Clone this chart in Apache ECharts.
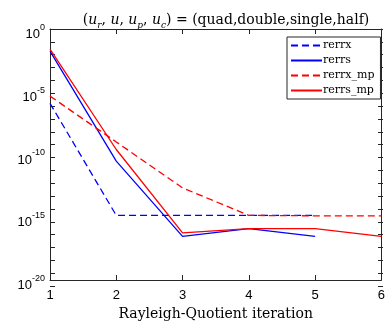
<!DOCTYPE html>
<html>
<head>
<meta charset="utf-8">
<script src="https://cdn.jsdelivr.net/npm/echarts@6/dist/echarts.min.js"></script>
<style>
html,body{margin:0;padding:0;background:#fff;}
#c{width:388px;height:326px;}
</style>
</head>
<body>
<div id="c"></div>
<script>
var iterations = [1, 2, 3, 4, 5, 6];
var rerrx    = [1.2e-6, 1.4e-15, 1.4e-15, 1.4e-15, 1.4e-15];
var rerrs    = [1.7e-2, 3e-11, 3e-17, 1.25e-16, 3e-17];
var rerrx_mp = [4.5e-6, 1e-9, 2.2e-13, 1.4e-15, 1.3e-15, 1.3e-15];
var rerrs_mp = [2.5e-2, 2.5e-10, 5.7e-17, 1.25e-16, 1.25e-16, 3e-17];
var seriesNames = ['rerrx', 'rerrs', 'rerrx_mp', 'rerrs_mp'];
var yLabelExps = [0, -5, -10, -15, -20];

function pairs(arr) { return arr.map(function (v, i) { return [iterations[i], v]; }); }

var axisColor = '#262626';
var chart = echarts.init(document.getElementById('c'), null, {renderer: 'canvas'});

function yLabel(v) {
  var e = Math.round(Math.log10(v));
  if (yLabelExps.indexOf(e) < 0) return '';
  return '{b|10}{s|' + e + '}';
}

var lineBlue = '#0000ff', lineRed = '#ff0000';
var serifFont = 'DejaVu Serif';
var gridBox = {left: 50, right: 5, top: 29, bottom: 40, containLabel: false};

// one tick per decade (exponent scale), drawn on an overlay grid
var decadeTicks = {
  gridIndex: 1,
  type: 'value', min: -20, max: 0, interval: 1,
  axisLine: {show: false},
  axisTick: {show: true, inside: true, length: 5, lineStyle: {color: axisColor, width: 1}},
  axisLabel: {show: false},
  splitLine: {show: false}
};

var option = {
  animation: false,
  backgroundColor: '#ffffff',
  title: {
    text: '{p|(}{i|u}{s|r}{p|, }{i|u}{p|, }{i|u}{s|p}{p|, }{i|u}{s|c}{p|) = (quad,double,single,half)}',
    left: 221, top: 7, textAlign: 'center',
    textStyle: {
      fontWeight: 'normal',
      rich: {
        p: {fontFamily: serifFont, fontWeight: 'normal', fontSize: 14, color: '#000', lineHeight: 16, verticalAlign: 'middle'},
        i: {fontFamily: serifFont, fontWeight: 'normal', fontStyle: 'italic', fontSize: 14, color: '#000', lineHeight: 16, verticalAlign: 'middle'},
        s: {fontFamily: serifFont, fontWeight: 'normal', fontStyle: 'italic', fontSize: 9, color: '#000', lineHeight: 9, verticalAlign: 'bottom', padding: [0, 0, -2, 0]}
      }
    }
  },
  grid: [gridBox, Object.assign({}, gridBox)],
  legend: {
    orient: 'vertical',
    left: 287, top: 37,
    data: seriesNames,
    itemWidth: 31, itemHeight: 12, itemGap: 4,
    padding: [3, 6, 3, 3],
    borderColor: axisColor, borderWidth: 1,
    backgroundColor: '#fff',
    itemStyle: {opacity: 0},
    textStyle: {fontFamily: serifFont, fontSize: 11, color: '#000', padding: [0, 0, 0, -4]}
  },
  xAxis: [{
    gridIndex: 0,
    type: 'value', min: 1, max: 6, interval: 1,
    name: 'Rayleigh-Quotient iteration', nameLocation: 'middle', nameGap: 27,
    nameTextStyle: {fontFamily: serifFont, fontSize: 14, color: '#000'},
    axisLine: {show: true, lineStyle: {color: axisColor}},
    axisTick: {show: true, inside: true, length: 5, lineStyle: {color: axisColor}},
    axisLabel: {fontFamily: 'Liberation Sans', fontSize: 13, color: '#000', margin: 9},
    splitLine: {show: false}
  }, {
    gridIndex: 0,
    type: 'value', min: 1, max: 6, interval: 1, position: 'top',
    axisLine: {show: true, lineStyle: {color: axisColor}},
    axisTick: {show: true, inside: true, length: 5, lineStyle: {color: axisColor}},
    axisLabel: {show: false},
    splitLine: {show: false}
  }, {
    gridIndex: 1,
    type: 'value', min: 1, max: 6, show: false
  }],
  yAxis: [{
    gridIndex: 0,
    type: 'log', logBase: 10, min: 1e-20, max: 1, interval: 5, position: 'left',
    axisLine: {show: true, lineStyle: {color: axisColor, width: 1}},
    axisTick: {show: false},
    splitLine: {show: false},
    axisLabel: {
      formatter: yLabel, margin: 5, showMinLabel: true, showMaxLabel: true,
      padding: [6, 0, 0, 0],
      rich: {
        b: {fontFamily: 'Liberation Sans', fontSize: 13, color: '#000', lineHeight: 18, verticalAlign: 'bottom'},
        s: {fontFamily: 'Liberation Sans', fontSize: 9, color: '#000', lineHeight: 9, verticalAlign: 'top'}
      }
    }
  }, {
    gridIndex: 0,
    type: 'log', logBase: 10, min: 1e-20, max: 1, interval: 5, position: 'right',
    axisLine: {show: true, lineStyle: {color: axisColor, width: 1}},
    axisTick: {show: false},
    splitLine: {show: false},
    axisLabel: {show: false}
  },
  Object.assign({}, decadeTicks, {position: 'left'}),
  Object.assign({}, decadeTicks, {position: 'right'})
  ],
  series: [
    {name: 'rerrx', type: 'line', xAxisIndex: 0, yAxisIndex: 0, data: pairs(rerrx), showSymbol: false, symbol: 'none', smooth: false,
     lineStyle: {color: lineBlue, width: 1.3, type: [7, 4]}, itemStyle: {color: lineBlue}},
    {name: 'rerrs', type: 'line', xAxisIndex: 0, yAxisIndex: 0, data: pairs(rerrs), showSymbol: false, symbol: 'none', smooth: false,
     lineStyle: {color: lineBlue, width: 1.3}, itemStyle: {color: lineBlue}},
    {name: 'rerrx_mp', type: 'line', xAxisIndex: 0, yAxisIndex: 0, data: pairs(rerrx_mp), showSymbol: false, symbol: 'none', smooth: false,
     lineStyle: {color: lineRed, width: 1.3, type: [7, 4]}, itemStyle: {color: lineRed}},
    {name: 'rerrs_mp', type: 'line', xAxisIndex: 0, yAxisIndex: 0, data: pairs(rerrs_mp), showSymbol: false, symbol: 'none', smooth: false,
     lineStyle: {color: lineRed, width: 1.3}, itemStyle: {color: lineRed}}
  ]
};
chart.setOption(option);
</script>
</body>
</html>
